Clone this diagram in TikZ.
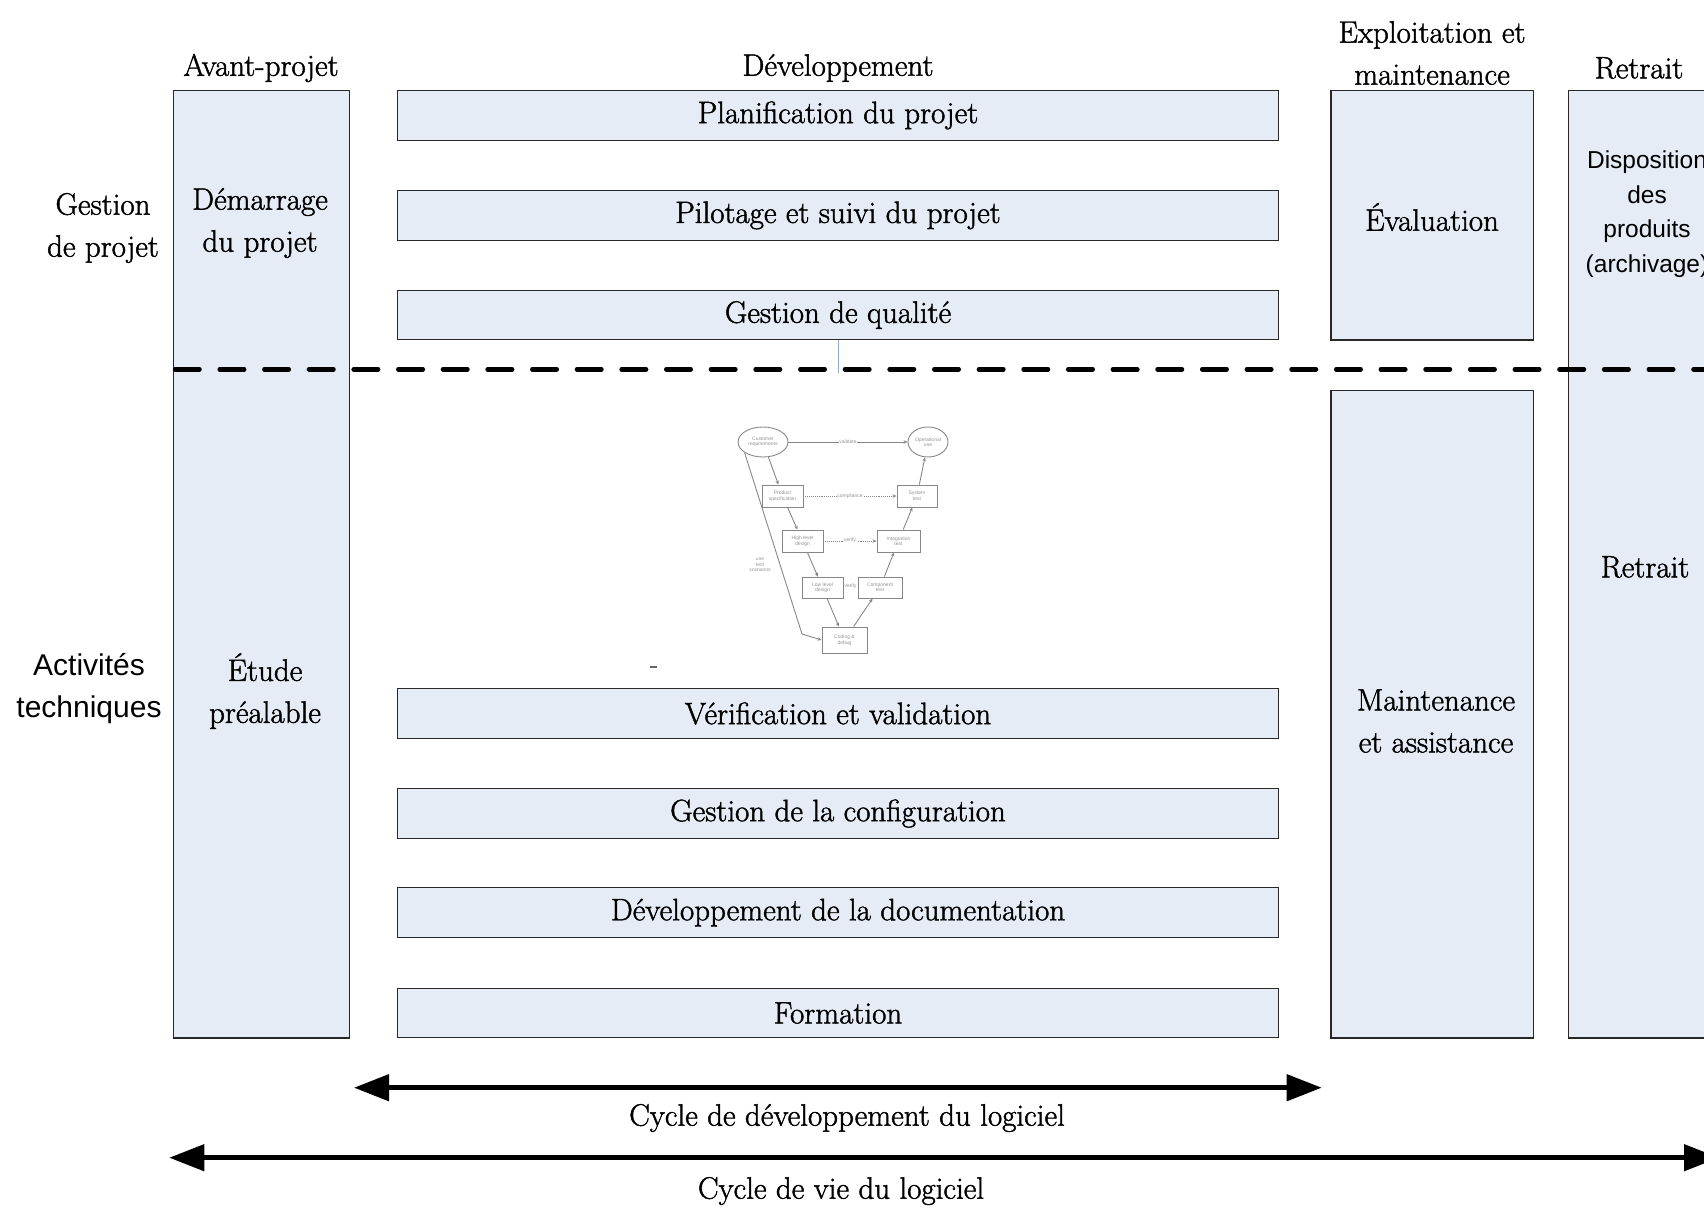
\documentclass[tikz,border=0pt]{standalone}
\usepackage{fontspec}
\setmainfont{Latin Modern Roman}[FakeBold=1.4]
\newfontfamily\sansfont{Liberation Sans}
\usetikzlibrary{arrows.meta,shapes.geometric}

\definecolor{boxfill}{RGB}{230,236,246}
\definecolor{boxline}{RGB}{40,40,40}
\definecolor{guideblue}{RGB}{140,172,222}
\definecolor{sketchgray}{RGB}{135,135,135}

\tikzset{
  x=1pt, y=-1pt,
  lbl/.style={font=\fontsize{31}{42}\selectfont, align=center, inner sep=0pt, yshift=-3pt},
  sanslbl/.style={font=\sansfont\fontsize{30}{42}\selectfont, align=center, inner sep=0pt, yshift=-3pt},
  smallsans/.style={font=\sansfont\fontsize{24.5}{34.5}\selectfont, align=center, inner sep=0pt, yshift=-3pt},
  panel/.style={rectangle, draw=boxline, line width=1.2pt, fill=boxfill, inner sep=0pt},
  taskbar/.style={panel, minimum width=881.4pt, minimum height=49.4pt,
                  font=\fontsize{31}{42}\selectfont},
  divider/.style={line width=4.5pt, line cap=round, dash pattern=on 24.5pt off 20.16pt},
  cyclearrow/.style={line width=4.6pt,
     {Triangle[length=35pt,width=26pt]}-{Triangle[length=35pt,width=26pt]}},
  % small V-model sketch
  vnode/.style={draw=sketchgray, line width=0.9pt, fill=white, inner sep=0pt,
                font=\sansfont\fontsize{5}{5.5}\selectfont, text=gray!85, align=center},
  vbox/.style={vnode, rectangle},
  vell/.style={vnode, ellipse},
  vlink/.style={draw=sketchgray, line width=0.9pt, -{Stealth[length=4pt,width=3.5pt]}},
  vtag/.style={font=\sansfont\fontsize{5}{5.5}\selectfont, text=gray!85, fill=white,
               inner sep=0.6pt, align=center},
}

\begin{document}
\begin{tikzpicture}
\useasboundingbox (0,0) rectangle (1704,1207);
\clip (0,0) rectangle (1704,1207);

% phase columns
\node[panel, minimum width=175.6pt, minimum height=947.2pt] (avant) at (261.5,564.3) {};
\node[panel, minimum width=202.6pt, minimum height=249.3pt] (exploit) at (1432.3,215.4) {};
\node[panel, minimum width=202.6pt, minimum height=647.8pt] (maint) at (1432.3,714) {};
\node[panel, minimum width=232pt, minimum height=947.2pt] (retrait) at (1684.3,564.3) {};

% development activities
\node[taskbar] (plan)    at (838,115.4) {Planification du projet};
\node[taskbar] (pilot)   at (838,215.4) {Pilotage et suivi du projet};
\node[taskbar] (quality) at (838,315)   {Gestion de qualité};
\node[taskbar] (verif)   at (838,713.5) {Vérification et validation};
\node[taskbar] (config)  at (838,813.5) {Gestion de la configuration};
\node[taskbar] (docu)    at (838,912.5) {Développement de la documentation};
\node[taskbar] (train)   at (838,1013)  {Formation};

% texts inside the columns
\node[lbl] (start)  at (260,220) {Démarrage\\du projet};
\node[lbl] (study)  at (265,688) {Étude\\préalable};
\node[lbl] (evalt)  at (1432,214) {Évaluation};
\node[lbl] (assist) at (1436,718) {Maintenance\\et assistance};
\node[lbl] (retxt)  at (1645,564) {Retrait};
\node[smallsans] (dispo) at (1647,211) {Disposition\\des\\produits\\(archivage)};

% column headings
\node[lbl] (hAvant) at (261,65)  {Avant-projet};
\node[lbl] (hDev)   at (838,65)  {Développement};
\node[lbl] (hExp)   at (1432,50) {Exploitation et\\maintenance};
\node[lbl] (hRet)   at (1639,65) {Retrait};

% row headings
\node[lbl]     (rGest) at (103,225) {Gestion\\de projet};
\node[sanslbl] (rTech) at (89,686)  {Activités\\techniques};

% boundary between management and technical activities
\coordinate (divL) at (175,369.3);
\coordinate (divR) at (1730,369.3);
\draw[divider] (divL) -- (divR);
\coordinate (qualtick) at (838,373);
\draw[guideblue, line width=1pt] (quality.south) -- (qualtick);

% V-model sketch
\node[vell, minimum width=50pt, minimum height=30pt] (creq)  at (763,442) {Customer\\requirements};
\node[vell, minimum width=40pt, minimum height=30pt] (opuse) at (928,442) {Operational\\use};
\node[vbox, minimum width=41pt, minimum height=22pt] (pspec)    at (782.5,496) {Product\\specification};
\node[vbox, minimum width=40pt, minimum height=22pt] (systest)  at (917,496)   {System\\test};
\node[vbox, minimum width=41pt, minimum height=22pt] (hld)      at (802.5,541) {High level\\design};
\node[vbox, minimum width=43pt, minimum height=22pt] (inttest)  at (898.5,541) {Integration\\test};
\node[vbox, minimum width=41pt, minimum height=21pt] (lld)      at (822.5,587.5) {Low level\\design};
\node[vbox, minimum width=44pt, minimum height=21pt] (comptest) at (880,587.5) {Component\\test};
\node[vbox, minimum width=45pt, minimum height=26pt] (code)     at (844.5,640) {Coding \&\\debug};

\draw[vlink] (creq) -- (pspec);
\draw[vlink] (pspec) -- (hld);
\draw[vlink] (hld) -- (lld);
\draw[vlink] (lld) -- (code);
\draw[vlink] (code) -- (comptest);
\draw[vlink] (comptest) -- (inttest);
\draw[vlink] (inttest) -- (systest);
\draw[vlink] (systest) -- (opuse);
\draw[vlink] (creq) -- node[vtag] {validate} (opuse);
\draw[vlink, densely dotted] (pspec) -- node[vtag] {compliance} (systest);
\draw[vlink, densely dotted] (hld) -- node[vtag, above=-3pt] {verify} (inttest);
\draw[vlink] (lld) -- node[vtag, above=-2pt] {verify} (comptest);
\coordinate (fbturn) at (802,634);
\draw[vlink] (creq.210) -- (fbturn) -- (code.west);
\node[vtag, fill=none] (fbnote) at (760,565) {use\\test\\scenarios};
\fill[gray!80!black] (650,666) rectangle (657,668);

% life-cycle spans
\coordinate (devL) at (354,1087.7);
\coordinate (devR) at (1321.7,1087.7);
\draw[cyclearrow] (devL) -- (devR);
\node[lbl] (devtxt) at (847,1115) {Cycle de développement du logiciel};
\coordinate (lifeL) at (169.3,1157.7);
\coordinate (lifeR) at (1719,1157.7);
\draw[cyclearrow] (lifeL) -- (lifeR);
\node[lbl] (lifetxt) at (841,1188) {Cycle de vie du logiciel};
\end{tikzpicture}
\end{document}
